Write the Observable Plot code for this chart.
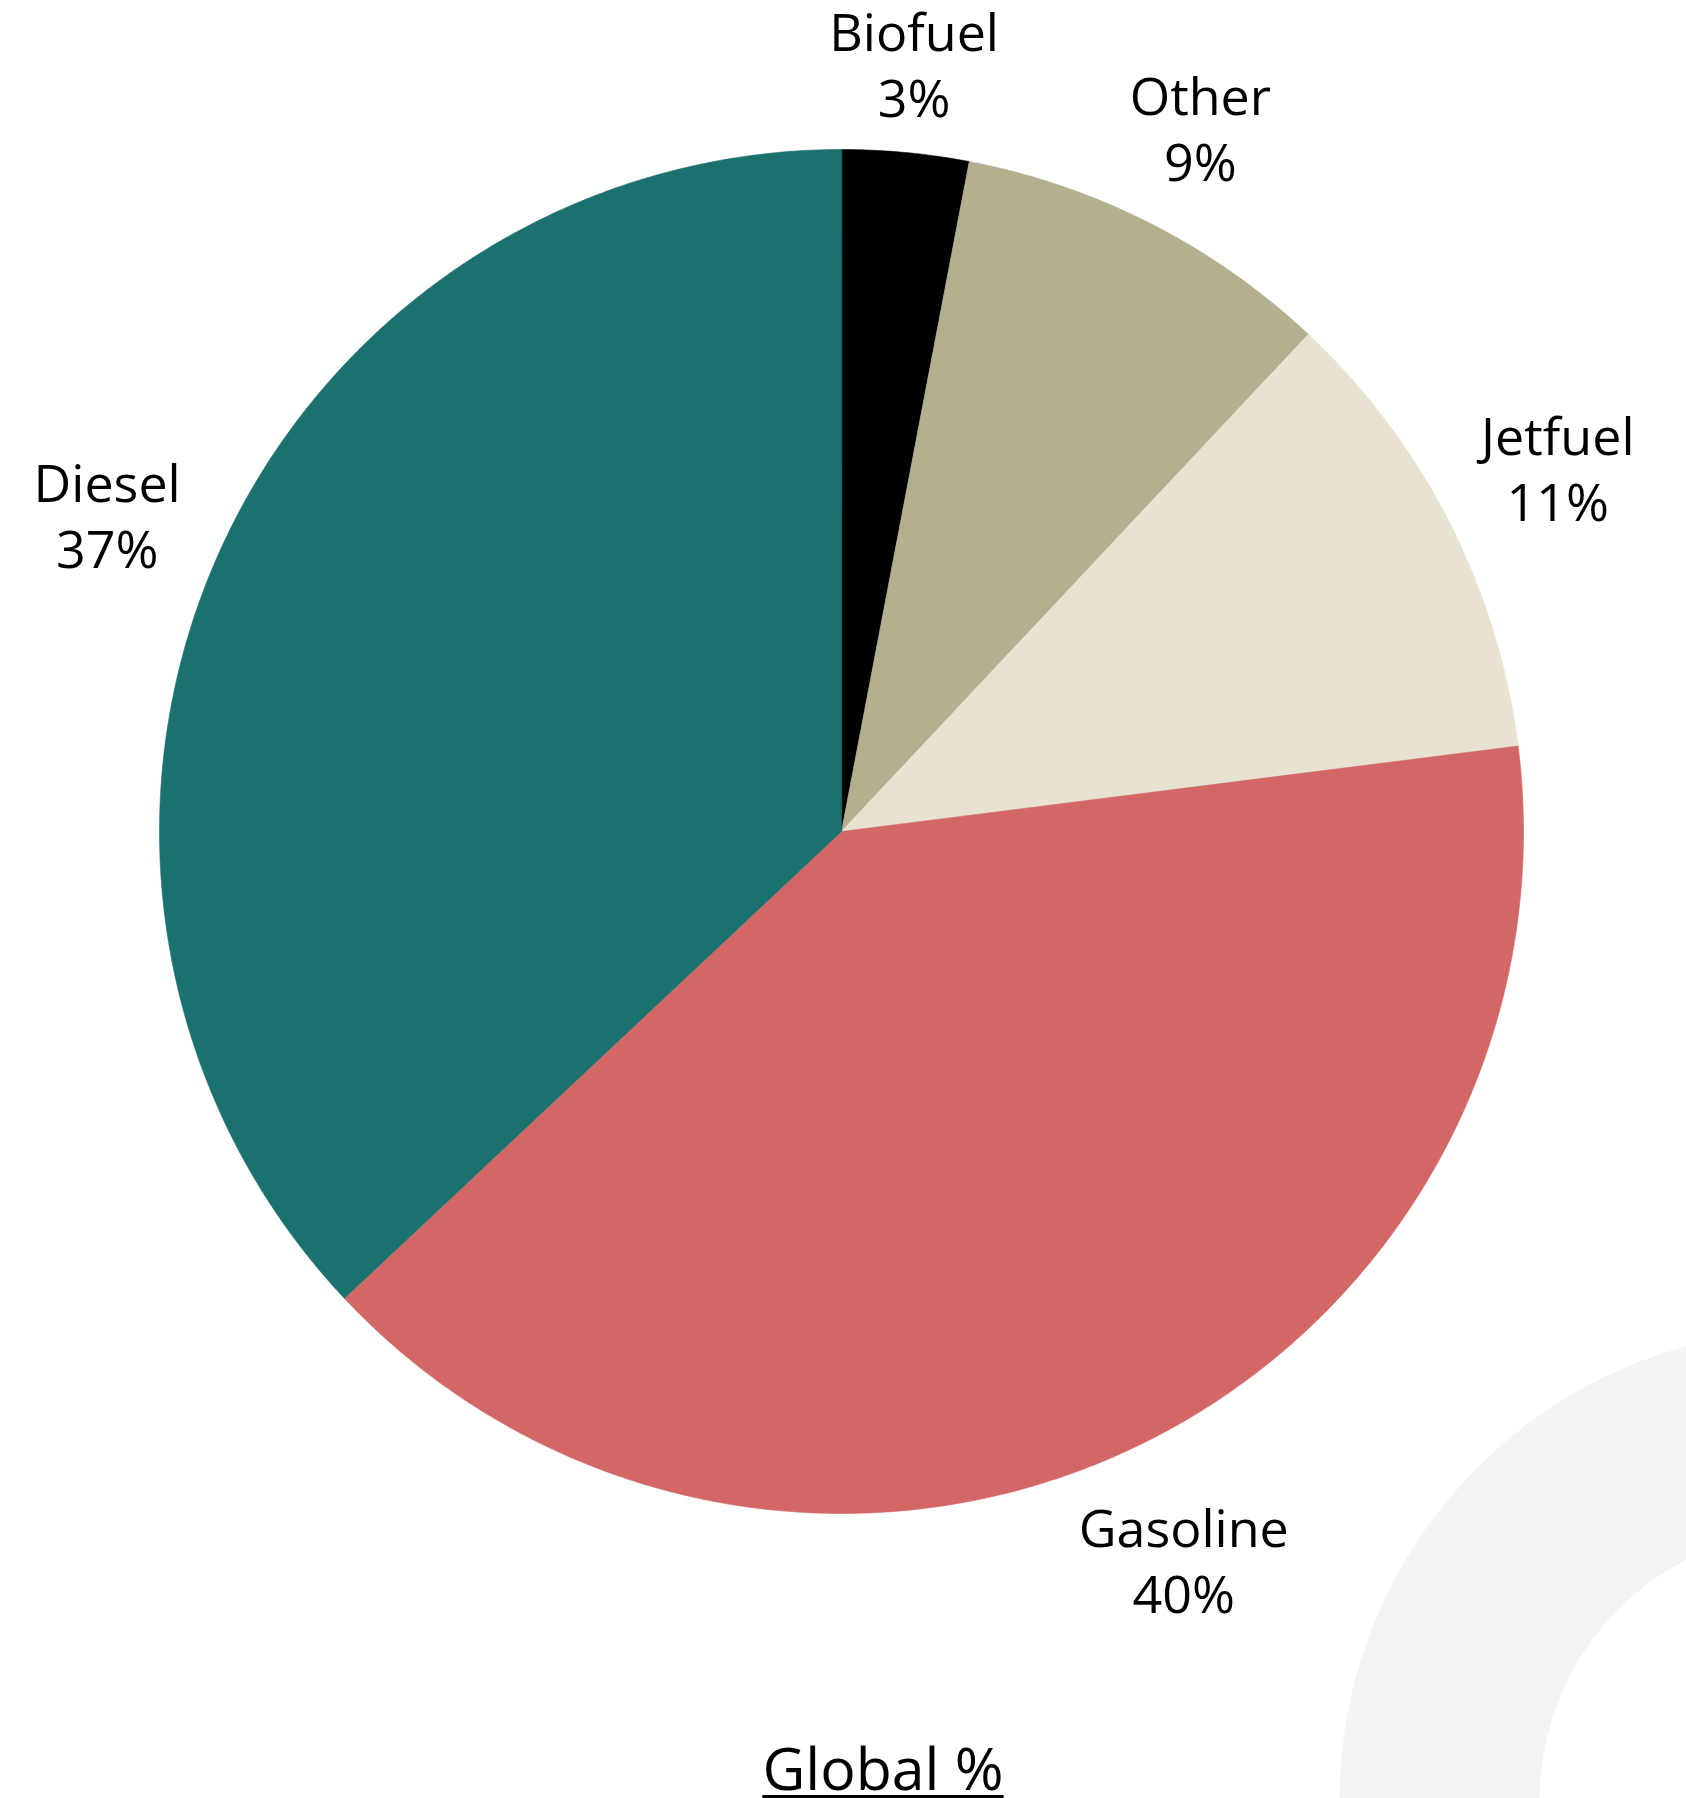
<!DOCTYPE html>
<html>
<head>
<meta charset="utf-8">
<script src="https://cdn.jsdelivr.net/npm/d3@7"></script>
<script src="https://cdn.jsdelivr.net/npm/@observablehq/plot@0.6"></script>
<style>
  html, body { margin: 0; padding: 0; background: #ffffff; overflow: hidden; }
  #wrap { position: relative; width: 1686px; height: 1798px; overflow: hidden; }
  #title {
    position: absolute; left: 883px; top: 1738px; transform: translateX(-50%);
    font-family: "Open Sans", sans-serif; font-size: 59px; line-height: 1; color: #000;
    text-decoration: underline; text-decoration-thickness: 4px; text-underline-offset: 5px;
    white-space: nowrap;
  }
</style>
</head>
<body>
<div id="wrap"><div id="title">Global %</div></div>
<script>
// ---- data ----
const names = ["Biofuel", "Other", "Jetfuel", "Gasoline", "Diesel"];
const shares = [3, 9, 11, 40, 37];
const colors = ["#000000", "#b4af8f", "#e8e3d1", "#d26766", "#1a716d"];
const titleText = "Global %";

// ---- layout ----
const W = 1686, H = 1798;
const CX = 841, CY = 831, R = 682;   // pie centre / radius in px
const FONT = 52, LH = 1.27, GAP = 30;

document.getElementById("title").textContent = titleText;

const total = d3.sum(shares);
const slices = [];
let cum = 0;
names.forEach((name, i) => {
  const a0 = cum / total * 2 * Math.PI;
  cum += shares[i];
  const a1 = cum / total * 2 * Math.PI;
  slices.push({name, value: shares[i], a0, a1});
});

// polygon points for each slice (angles measured clockwise from top)
const pts = [];
for (const s of slices) {
  pts.push({name: s.name, x: 0, y: 0});
  const n = Math.max(2, Math.ceil((s.a1 - s.a0) / (Math.PI / 720)));
  for (let k = 0; k <= n; k++) {
    const t = s.a0 + (s.a1 - s.a0) * k / n;
    pts.push({name: s.name, x: Math.sin(t), y: Math.cos(t)});
  }
}

// labels: placed outside, text box just clear of the rim
const ctx = document.createElement("canvas").getContext("2d");
ctx.font = `${FONT}px "Open Sans"`;
const labels = slices.map(s => {
  const t = (s.a0 + s.a1) / 2;
  const l1 = s.name, l2 = `${s.value}%`;
  const w = Math.max(ctx.measureText(l1).width, ctx.measureText(l2).width);
  const hh = 52;
  const ext = w / 2 * Math.abs(Math.sin(t)) + hh * Math.abs(Math.cos(t));
  const d = (R + GAP + ext) / R;
  return {name: s.name, text: `${l1}\n${l2}`, x: d * Math.sin(t), y: d * Math.cos(t)};
});

// decorative ring (bottom right)
const ring = [{x: (1810 - CX) / R, y: -(1800 - CY) / R}];

const chart = Plot.plot({
  width: W, height: H, margin: 0,
  style: {fontFamily: "'Open Sans', sans-serif", background: "#ffffff", overflow: "hidden"},
  x: {domain: [-1, 1], range: [CX - R, CX + R], axis: null},
  y: {domain: [-1, 1], range: [CY + R, CY - R], axis: null},
  color: {domain: names, range: colors},
  marks: [
    Plot.dot(ring, {x: "x", y: "y", r: 371, stroke: "#f4f4f4", strokeWidth: 200, fill: "none"}),
    Plot.line(pts, {x: "x", y: "y", z: "name", fill: "name", stroke: "name", strokeWidth: 0.6, curve: "linear-closed"}),
    Plot.text(labels, {x: "x", y: "y", text: "text", fontSize: FONT, lineHeight: LH,
      textAnchor: "middle", lineAnchor: "middle", fill: "#000000"})
  ]
});
document.getElementById("wrap").prepend(chart);
</script>
</body>
</html>
